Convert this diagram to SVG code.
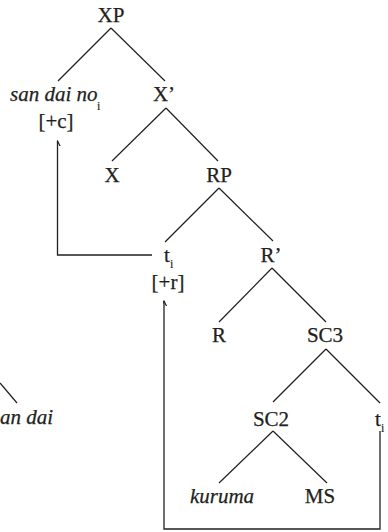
<svg xmlns="http://www.w3.org/2000/svg" width="388" height="532" viewBox="0 0 388 532">
<defs>
<style>
text{font-family:"Liberation Serif","Times New Roman","DejaVu Serif",serif;font-size:21px;fill:#231f20;stroke:#231f20;stroke-width:0.25}
.m{text-anchor:middle}
.it{font-style:italic}
.sub{font-size:12px;stroke-width:0.15}
.br{stroke:#231f20;stroke-width:1.2;fill:none}
.mv{stroke:#231f20;stroke-width:1.3;fill:none;marker-end:url(#ah)}
</style>
<marker id="ah" viewBox="-5 -1 10 10" refX="0" refY="0" markerWidth="10" markerHeight="10" markerUnits="userSpaceOnUse" orient="auto-start-reverse">
<path d="M-3.5,7 L0,0 L3.5,7" fill="none" stroke="#231f20" stroke-width="1.2" transform="rotate(90)"/>
</marker>
</defs>
<rect width="388" height="532" fill="#fff"/>
<g id="connectors">
<line class="br" x1="111" y1="28" x2="58" y2="81"/>
<line class="br" x1="111" y1="28" x2="165" y2="81"/>
<line class="br" x1="166" y1="108" x2="112" y2="161"/>
<line class="br" x1="166" y1="108" x2="218" y2="161"/>
<line class="br" x1="219" y1="188" x2="165" y2="242"/>
<line class="br" x1="219" y1="188" x2="273" y2="241"/>
<line class="br" x1="272" y1="268" x2="219" y2="322"/>
<line class="br" x1="272" y1="268" x2="326" y2="322"/>
<line class="br" x1="326" y1="349" x2="273" y2="402"/>
<line class="br" x1="326" y1="349" x2="380" y2="403"/>
<line class="br" x1="273" y1="431" x2="219" y2="483"/>
<line class="br" x1="273" y1="431" x2="327" y2="483"/>
<line class="br" x1="0" y1="383" x2="17" y2="403"/>
<path class="mv" d="M152,255 H57.5 V141"/>
<path class="mv" d="M380,431 V529 H164 V301"/>
</g>
<g id="XP"><text class="m" x="111" y="22">XP</text></g>
<g id="sandaino"><text class="it" x="10" y="101">san dai no</text><text class="sub" x="97" y="110">i</text><text class="m" x="56" y="128">[+c]</text></g>
<g id="Xbar"><text class="m" x="164" y="101">X’</text></g>
<g id="X"><text class="m" x="112" y="182">X</text></g>
<g id="RP"><text class="m" x="219" y="182">RP</text></g>
<g id="t1"><text x="164" y="262">t</text><text class="sub" x="170" y="268">i</text><text class="m" x="168" y="289">[+r]</text></g>
<g id="Rbar"><text class="m" x="271" y="262">R’</text></g>
<g id="R"><text class="m" x="219" y="342">R</text></g>
<g id="SC3"><text class="m" x="325" y="342">SC3</text></g>
<g id="SC2"><text class="m" x="271" y="426">SC2</text></g>
<g id="t2"><text x="375" y="426">t</text><text class="sub" x="381" y="432">i</text></g>
<g id="kuruma"><text class="m it" x="222" y="503">kuruma</text></g>
<g id="MS"><text class="m" x="320" y="503">MS</text></g>
<g id="andai"><text class="it" x="0" y="424">an dai</text></g>
</svg>
